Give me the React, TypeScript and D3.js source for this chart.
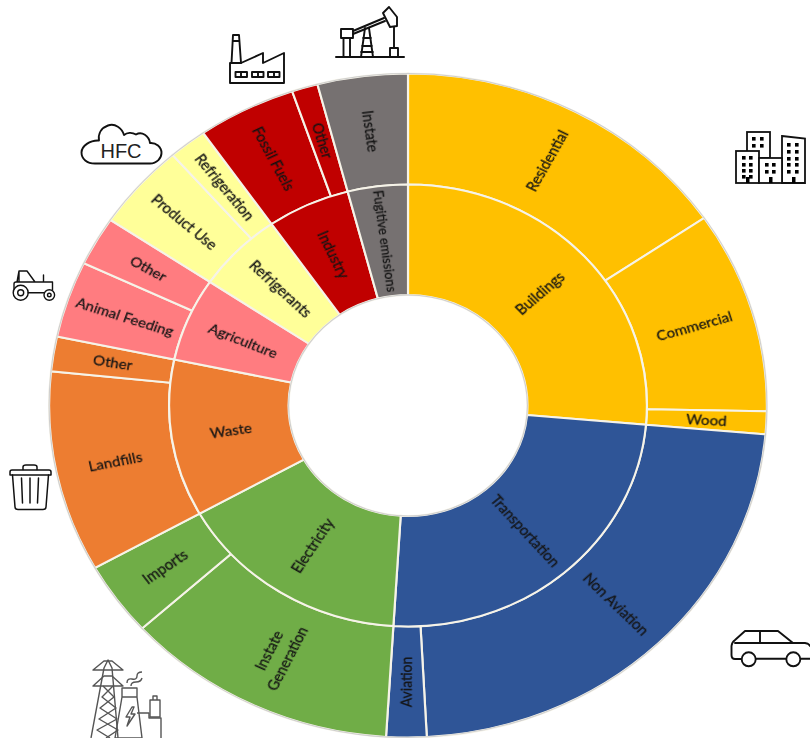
import React from "react";
import * as d3 from "d3";

// Sector shares (% of total), read clockwise from 12 o'clock
const categories = ["Buildings", "Transportation", "Electricity", "Waste", "Agriculture", "Refrigerants", "Industry", "Fugitive emissions"];
const categoryColors = ["#FFC000", "#2F5597", "#70AD47", "#ED7D31", "#FF7C80", "#FFFF99", "#C00000", "#767171"];
const subLabels = ["Residential", "Commercial", "Wood", "Non Aviation", "Aviation", "Instate|Generation", "Imports", "Landfills", "Other", "Animal Feeding", "Other", "Product Use", "Refrigeration", "Fossil Fuels", "Other", "Instate"];
const subParents = [0, 0, 0, 1, 1, 2, 2, 3, 3, 4, 4, 5, 5, 6, 6, 7];
const subValues = [15.45, 9.83, 1.11, 22.78, 1.81, 12.31, 3.58, 9.78, 1.69, 3.72, 2.39, 4.17, 1.72, 4.44, 1.17, 4.06];

const cx = 408, cy = 405.5, stretch = 1.081;
const rInner = 110.5, rMid = 221, rOuter = 332;
const FONT = "Lato, 'Open Sans', sans-serif";

type Leaf = { label: string; parent: number; value: number };
const leaves: Leaf[] = subLabels.map((label, i) => ({ label, parent: subParents[i], value: subValues[i] }));
const totals = categories.map((_, i) => ({ label: categories[i], parent: i, value: d3.sum(leaves.filter(l => l.parent === i), l => l.value) }));

const pie = d3.pie<Leaf>().value(d => d.value).sort(null);
const arcOuter = d3.arc<any>().innerRadius(rMid).outerRadius(rOuter);
const arcInner = d3.arc<any>().innerRadius(rInner).outerRadius(rMid);

function Label({ d, arc, size }: { d: any; arc: any; size: number }) {
  const [x, y] = arc.centroid(d);
  const deg = ((d.startAngle + d.endAngle) / 2) * 180 / Math.PI;
  const rot = deg < 180 ? deg - 90 : deg - 270;
  const lines: string[] = d.data.label.split("|");
  return (
    <text transform={`translate(${x},${y}) rotate(${rot})`} textAnchor="middle" fontFamily={FONT} fontSize={size} fill="#141414" stroke="#141414" strokeWidth={0.25} filter="url(#soft)">
      {lines.map((t, i) => (
        <tspan key={i} x={0} y={(i - (lines.length - 1) / 2) * 19} dy="0.35em">{t}</tspan>
      ))}
    </text>
  );
}

function Ring({ data, arc, size }: { data: any[]; arc: any; size: number }) {
  return (
    <g>
      {data.map((d, i) => (
        <path key={i} d={arc(d)} fill={categoryColors[d.data.parent]} stroke="#f6f3e8" strokeWidth={2} />
      ))}
      {data.map((d, i) => <Label key={i} d={d} arc={arc} size={d.data.label.startsWith("Fugitive") ? 12.8 : size} />)}
    </g>
  );
}

function Icons() {
  const s = { fill: "none", stroke: "#111", strokeWidth: 1.9, strokeLinejoin: "round" as const, strokeLinecap: "round" as const };
  const win = (xs: number[], ys: number[], key: string) =>
    xs.flatMap(x => ys.map(y => <rect key={`${key}${x}-${y}`} x={x} y={y} width={3.6} height={3.6} fill="#000" />));
  return (
    <g>
      {/* pump jack */}
      <g {...s}>
        <path d="M336 57H404" strokeWidth={2} />
        <path d="M341 29H353V38H341Z M343.5 38V57 M350 38V57" />
        <path d="M353 31L384 18 M353 34L385 21" />
        <path d="M383 13L389 7L397 17L397 26L390 27Z" />
        <path d="M394 27V48 M390 48H398V57H390Z" />
        <path d="M361 57L365 28 M373 57L369 28 M363 38H371 M362 46H372 M361 52H373" />
      </g>
      {/* factory */}
      <g {...s}>
        <path d="M230 83V63H231.5L233 35H239L241 63L263 53V63L284 53V83Z" />
        <path d="M233 41H239 M231 63H241" />
        <path d="M235.5 72H247V77H235.5Z M241 72V77 M252 72H263.5V77H252Z M258 72V77 M268 72H279.5V77H268Z M274 72V77" />
      </g>
      {/* cloud */}
      <path {...s} d="M95 163.5H150C157 163.5 161.5 158 161.5 153C161.5 147 156 142.5 150 143C149 136 142 131 136 134.5C132 132 127 132.5 124 135C122 128 115 123 108 125.5C101 128 98 134 99 140.5C90 140 81.5 146 81.5 152.5C81.5 159 87 163.5 95 163.5Z" />
      <text x={121} y={158} textAnchor="middle" fontFamily="'Liberation Sans', Arial, sans-serif" fontSize={20} fill="#222">HFC</text>
      {/* tractor */}
      <g {...s} strokeWidth={1.4}>
        <circle cx={20.7} cy={292.7} r={7.5} />
        <circle cx={20.7} cy={292.7} r={3} />
        <circle cx={49.3} cy={295} r={5.3} />
        <circle cx={49.3} cy={295} r={1.8} />
        <path d="M14 289V284Q14 282 16 282H52.5V290 M28 292.7H44 M17 282L19 271H27L35 282 M19 272V282 M43.5 282V275" />
      </g>
      {/* trash can */}
      <g {...s} strokeWidth={1.5}>
        <path d="M10 475V472Q10 470 12 470H49Q51 470 51 472V475Z" />
        <path d="M23 469.5V467Q23 465 26 465H34Q37 465 37 467V469.5" />
        <path d="M12.5 475L15 507Q15 509.5 18 509.5H43Q46 509.5 46 507L48.5 475" />
        <path d="M21.5 478L22.5 503 M30 478V503 M38.5 478L37.5 503" />
      </g>
      {/* buildings */}
      <g fill="#fff" stroke="#111" strokeWidth={1.8}>
        <rect x={747} y={132} width={23} height={26} />
        <path d="M782 136L805 138.5V183H782Z" />
        <rect x={736} y={151} width={23} height={32} />
        <rect x={759} y={158} width={23} height={25} />
      </g>
      {win([752, 760], [137, 144], "a")}
      {win([742, 749], [156, 163, 169, 175], "b")}
      {win([765, 772], [163, 170], "c")}
      {win([787, 795], [143, 150, 157, 163, 170], "d")}
      <rect x={746} y={177} width={3.5} height={6} fill="#000" />
      <rect x={769} y={177} width={3.5} height={6} fill="#000" />
      <rect x={792} y={177} width={3.5} height={6} fill="#000" />
      {/* car */}
      <g {...s}>
        <path d="M741 659H735Q731.5 659 731.5 655V646Q732 642 735 640L745 631H778L793 643H805Q809 643.5 810 646 M756 658.7H786 M801 658.7H810 M760 631V643 M735 643H793" />
        <circle cx={748.7} cy={659.3} r={7} />
        <circle cx={793.3} cy={659.3} r={7} />
      </g>
      {/* power plant */}
      <g fill="none" stroke="#555" strokeWidth={1.4} strokeLinejoin="round">
        <path d="M91 738L104 668L108 660L112 668L118 738" />
        <path d="M93 670H123L112 661H104Z M93 686H123L112 676H104Z" />
        <path d="M103 686L114 697L100 708L117 719L97 730L110 738 M113 686L102 697L116 708L99 719L118 730L106 738" />
        <path d="M122 688H137V697H122Z M122 697L115 738H142L137 697" />
        <path d="M132 707L126 717H130L127 726L135 714H131L134 707Z" />
        <path d="M137 713H149V718H161V738" />
        <path d="M150 700H160V717H150Z M153 700V696H157V700" />
        <path d="M127 683Q127 678 132 679T137 676T142 672 M131 686Q131 682 136 682T142 678" />
      </g>
    </g>
  );
}

export default function App() {
  const outer = pie(leaves);
  const inner = pie(totals);
  return (
    <svg width={810} height={738} viewBox="0 0 810 738" style={{ position: "absolute", left: 0, top: 0, display: "block", background: "#fff" }}>
      <defs>
        <filter id="soft" x="-10%" y="-30%" width="120%" height="160%">
          <feGaussianBlur stdDeviation="0.3" />
        </filter>
      </defs>
      <g transform={`translate(${cx},${cy}) scale(${stretch},1)`}>
        <Ring data={outer} arc={arcOuter} size={14} />
        <Ring data={inner} arc={arcInner} size={14} />
        <circle r={rOuter} fill="none" stroke="#cfcfcf" strokeWidth={1} />
        <circle r={rInner} fill="none" stroke="#cfcfcf" strokeWidth={1} />
      </g>
      <Icons />
    </svg>
  );
}
